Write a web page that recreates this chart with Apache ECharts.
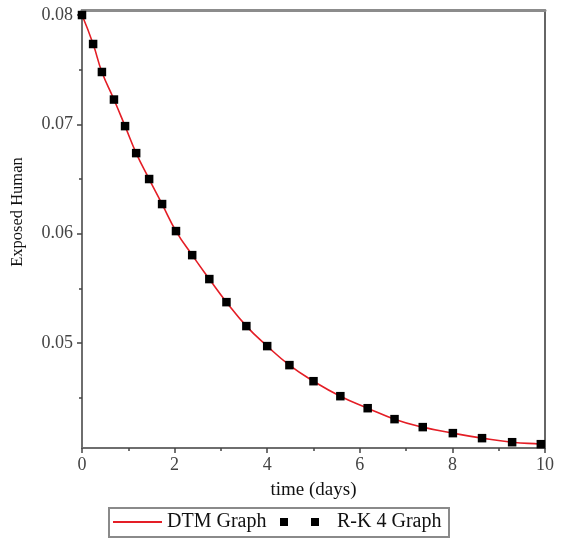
<!DOCTYPE html>
<html>
<head>
<meta charset="utf-8">
<script src="https://cdn.jsdelivr.net/npm/echarts@6/dist/echarts.min.js"></script>
<style>
html,body{margin:0;padding:0;background:#fff;}
#chart{width:561px;height:544px;}
</style>
</head>
<body>
<div id="chart"></div>
<script>
// time points (days)
var times = [0, 0.24, 0.43, 0.69, 0.93, 1.17, 1.45, 1.73, 2.03, 2.38, 2.75, 3.12, 3.55, 4.0, 4.48, 5.0, 5.58, 6.17, 6.75, 7.36, 8.01, 8.64, 9.29, 9.91, 10];
// DTM solution (red line)
var dtmValues = [0.0800, 0.07735, 0.07479, 0.07227, 0.06984, 0.06737, 0.06500, 0.06271, 0.06024, 0.05804, 0.05585, 0.05374, 0.05155, 0.04972, 0.04798, 0.04651, 0.04514, 0.04404, 0.04304, 0.04231, 0.04176, 0.04130, 0.04093, 0.04075, 0.04070];
// R-K 4 solution (black boxes)
var rkTimes = [0, 0.24, 0.43, 0.69, 0.93, 1.17, 1.45, 1.73, 2.03, 2.38, 2.75, 3.12, 3.55, 4.0, 4.48, 5.0, 5.58, 6.17, 6.75, 7.36, 8.01, 8.64, 9.29, 9.91];
var rkValues = [0.0800, 0.07735, 0.07479, 0.07227, 0.06984, 0.06737, 0.06500, 0.06271, 0.06024, 0.05804, 0.05585, 0.05374, 0.05155, 0.04972, 0.04798, 0.04651, 0.04514, 0.04404, 0.04304, 0.04231, 0.04176, 0.04130, 0.04093, 0.04075];
// axis ticks
var yMajorTicks = [0.05, 0.06, 0.07, 0.08];
var yMinorTicks = [0.045, 0.055, 0.065, 0.075];
var yMin = 0.0404, yMax = 0.08046;

var FONT = '"Liberation Serif", "Times New Roman", serif';

var chart = echarts.init(document.getElementById('chart'));
var option = {
  animation: false,
  backgroundColor: '#ffffff',
  grid: {left: 82, right: 16, top: 10, bottom: 96},
  xAxis: [{
    type: 'value', min: 0, max: 10, interval: 2, position: 'bottom',
    name: 'time (days)', nameLocation: 'middle', nameGap: 33,
    nameTextStyle: {fontFamily: FONT, fontSize: 19, color: '#111'},
    axisLine: {show: true, lineStyle: {color: '#6e6e6e', width: 2}},
    axisTick: {show: true, inside: false, length: 5, lineStyle: {color: '#444', width: 1.5}},
    minorTick: {show: true, splitNumber: 2, length: 3, lineStyle: {color: '#444', width: 1.5}},
    axisLabel: {fontFamily: FONT, fontSize: 18, color: '#444', margin: 8},
    splitLine: {show: false}, minorSplitLine: {show: false}
  }, {
    type: 'value', min: 0, max: 10, position: 'top',
    axisLine: {show: true, onZero: false, lineStyle: {color: '#8c8c8c', width: 3}},
    axisTick: {show: false}, axisLabel: {show: false}, splitLine: {show: false}
  }],
  yAxis: [{
    type: 'value', min: yMin, max: yMax, position: 'left',
    name: 'Exposed Human', nameLocation: 'middle', nameGap: 56, nameRotate: 90,
    nameTextStyle: {fontFamily: FONT, fontSize: 16.5, color: '#111', padding: [0, 0, 0, 34]},
    axisLine: {show: true, onZero: false, lineStyle: {color: '#6e6e6e', width: 2}},
    axisTick: {show: true, inside: false, length: 5, customValues: yMajorTicks, lineStyle: {color: '#444', width: 1.5}},
    axisLabel: {fontFamily: FONT, fontSize: 18, color: '#444', margin: 9, customValues: yMajorTicks,
      formatter: function (v) { return v.toFixed(2); }},
    splitLine: {show: false}
  }, {
    type: 'value', min: yMin, max: yMax, position: 'left', offset: 0,
    axisLine: {show: false},
    axisTick: {show: true, inside: false, length: 3, customValues: yMinorTicks, lineStyle: {color: '#444', width: 1.5}},
    axisLabel: {show: false}, splitLine: {show: false}
  }, {
    type: 'value', min: yMin, max: yMax, position: 'right',
    axisLine: {show: true, onZero: false, lineStyle: {color: '#333', width: 1.5}},
    axisTick: {show: false}, axisLabel: {show: false}, splitLine: {show: false}
  }],
  graphic: [{
    type: 'rect', left: 108, top: 507, z: 0,
    shape: {width: 340, height: 29},
    style: {fill: '#fff', stroke: '#8a8a8a', lineWidth: 2}
  }],
  legend: [{
    data: [{name: 'DTM Graph', icon: 'rect'}],
    left: 113, top: 512, padding: 0, z: 5,
    itemWidth: 49, itemHeight: 2, itemGap: 0,
    textStyle: {fontFamily: FONT, fontSize: 20, color: '#111'}
  }, {
    data: [{name: 'R-K 4 Graph', icon: 'path://M0,0h8v8h-8zM31,0h8v8h-8z'}],
    left: 280, top: 512, padding: 0, z: 5,
    itemWidth: 39, itemHeight: 8, itemGap: 0,
    textStyle: {fontFamily: FONT, fontSize: 20, color: '#111', padding: [0, 0, 0, 13]}
  }],
  series: [{
    name: 'DTM Graph', type: 'line', xAxisIndex: 0, yAxisIndex: 0,
    data: times.map(function (t, i) { return [t, dtmValues[i]]; }),
    smooth: true, showSymbol: false, symbol: 'none',
    lineStyle: {color: '#e41e26', width: 1.6}, itemStyle: {color: '#e41e26'}, z: 2
  }, {
    name: 'R-K 4 Graph', type: 'scatter', xAxisIndex: 0, yAxisIndex: 0,
    data: rkTimes.map(function (t, i) { return [t, rkValues[i]]; }),
    symbol: 'rect', symbolSize: 8.5,
    itemStyle: {color: '#000', opacity: 1}, z: 3
  }]
};
chart.setOption(option);
</script>
</body>
</html>
